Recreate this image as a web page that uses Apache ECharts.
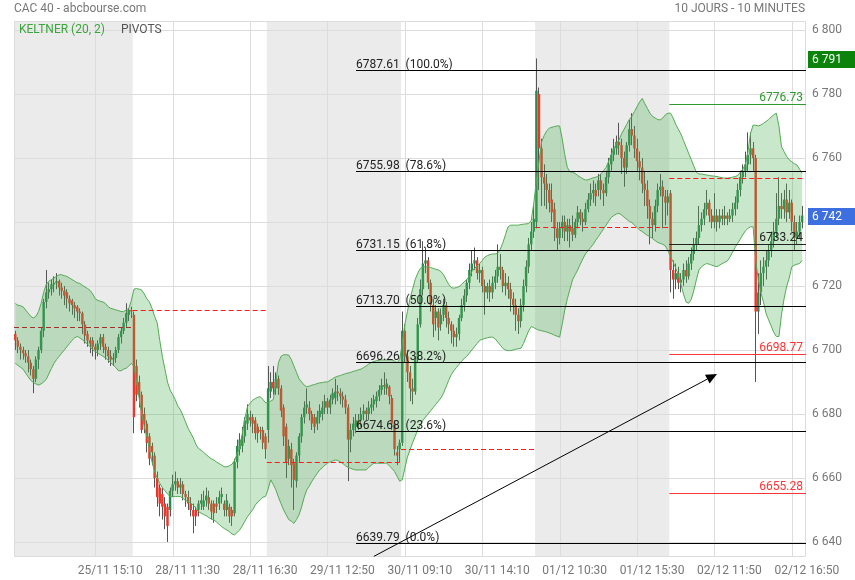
<!DOCTYPE html>
<html><head><meta charset="utf-8">
<script src="https://cdn.jsdelivr.net/npm/echarts@6/dist/echarts.min.js"></script>
<style>html,body{margin:0;padding:0;background:#fff}#c{width:855px;height:580px}</style>
</head><body><div id="c"></div>
<script>
// ---------- DATA ----------
const dayNames = ['25/11', '28/11', '29/11', '30/11', '01/12', '02/12'];
const firstSlotOfFirstDay = 6;          // 25/11 starts at 10:00
const slotsPerDay = 52;                  // 09:00 .. 17:30, 10 minutes

const opens = [
6705,6703,6701,6700,6699,6698,6696,6694,6691,6697,6700,6706,6715,6718,6719,6720.5,6721,6721.5,6719.5,6718.5,6718,6716,6715.5,6714,6713.5,6712,6711.5,6708,6705,6703,6703,6701,6700,6702,6704,6701,6700,6698,6697,6697.5,6700,6704,6706,6708.5,6711,6712.5,
6711,6695,6690,6686,6680,6677,6673,6670,6667,6660,6657,6655,6652,6651,6650,6656,6658,6659,6657,6658,6655,6654,6652,6650,6650,6650,6652,6651,6653,6654,6652,6652,6652,6652,6654,6652,6650,6651,6650,6649,6665,6669,6670,6673,6677,6679,6679,6678,6676,6675,6675,6673,
6675,6687,6690,6688,6691,6688,6682,6676,6666,6669,6664.6,6659,6667,6673,6679,6682,6682,6680,6679,6677,6679,6680,6682,6684,6682,6684.5,6685,6687,6686.5,6685.5,6684.5,6682,6672,6675,6676,6678,6678,6680,6681,6680,6682,6683,6684,6685.5,6687.5,6689,6688,6688.5,6685,6677,6668,6669,
6671,6706,6698,6693,6688,6687,6697,6708,6719,6727,6728,6721,6714,6710,6712,6708,6711,6714,6710,6708,6706,6704,6705,6710,6714,6717,6721,6725,6727,6728,6724,6725,6720,6718,6720,6718,6721,6723,6726,6725,6720,6721,6719,6716,6714,6711,6709,6714,6720,6726,6733,6737,
6740,6780,6763,6754,6752,6750,6747,6744,6738,6735,6738,6740,6737,6739,6738,6736,6740,6743,6741,6740,6744,6747,6749,6750,6750,6753,6750,6749,6754,6758,6761,6763,6765,6764,6760,6757,6764,6769,6767,6763,6759,6757,6752,6750,6745,6741,6739,6745,6750,6751,6748,6746,
6749,6725,6722,6724,6721,6722,6725,6723,6727,6730,6733,6735,6739,6741,6744,6746,6742,6740,6742,6740,6742,6741,6742,6741,6742,6744,6746,6750,6754,6756,6758,6761,6763,6760,6712,6718,6724,6726,6728,6731,6734,6737,6741,6745,6744,6747,6743,6746,6740,6735,6737,6740
];
const closes = [
6703,6701,6700,6699,6698,6696,6694,6691,6697,6700,6706,6715,6718,6719,6720.5,6721,6721.5,6719.5,6718.5,6717,6716,6714.6,6714,6713,6712,6711.5,6708,6704.5,6703,6702,6701,6700,6702,6704,6701,6700,6698,6697,6697.5,6700,6704,6706,6708.5,6711.5,6712.5,6712,
6679,6686,6686,6675,6677,6671,6666,6668,6660,6654,6652,6651,6648,6645,6656,6658,6659,6657,6658,6655,6654,6652,6650,6648,6648,6652,6653,6653,6654.5,6652,6649.5,6649,6651,6654,6655,6650,6653,6648,6648,6665,6670,6672,6673,6678,6680,6678,6677,6674,6674,6674.5,6671,6669,
6688,6690,6688,6691,6688,6681,6673,6665,6670,6664,6659.4,6667,6673,6679,6682,6683,6680,6677,6676,6679,6681,6682,6684,6682,6684.5,6686.5,6687,6686.5,6685.5,6684.5,6682,6672,6675,6677,6678,6677,6680,6681,6680,6682,6683,6684.5,6685.5,6687.5,6689,6688.5,6689.5,6685.5,6677,6669,6667,6671,
6706,6698,6693,6688,6687,6697,6708,6719,6727,6728,6721,6714,6708,6712,6707,6711,6714,6710,6708,6706,6704,6705,6710,6714,6717,6721,6725,6727,6728,6724,6725,6720,6718,6720,6718,6721,6723,6726,6725,6720,6721,6719,6716,6714,6711,6709,6714,6720,6726,6733,6737,6741,
6781,6763,6754,6752,6750,6746,6743,6738,6735,6738,6740,6737,6739,6737,6736,6740,6743,6741,6740,6744,6747,6749,6750,6748,6753,6750,6749,6754,6758,6761,6763,6765,6764,6760,6757,6764,6769,6767,6763,6759,6757,6752,6750,6745,6741,6739,6745,6750,6751,6748,6746,6748,
6725,6722,6724,6721,6722,6725,6723,6727,6730,6733,6735,6739,6741,6744,6746,6742,6740,6742,6740,6742,6741,6742,6741,6742,6744,6746,6750,6754,6756,6758,6761,6763,6760,6712,6718,6724,6726,6728,6731,6734,6737,6741,6745,6744,6747,6743,6746,6740,6735,6737,6740,6742
];
const highs = [
6706,6704,6702,6701,6700,6700,6697,6695,6698,6701,6707,6716,6725,6721,6722,6723,6724,6722,6721,6720,6719,6717,6716,6715,6714,6713,6712,6709,6706,6704,6704,6702,6703,6705,6705,6702,6701,6700,6699,6701,6705,6707,6710,6714.6,6713,6713.5,
6712,6697,6692,6687,6682,6678,6674,6671,6668,6662,6658,6657,6654,6652,6657,6661,6662,6660,6660,6659,6656,6656,6654,6652,6651,6653,6655,6656,6657,6656,6653,6653,6654,6656,6657,6653,6655,6652,6651,6666,6672,6674,6676,6679,6683,6681,6680,6679,6677,6676,6676,6674,
6695,6693,6695,6693,6692,6689,6683,6677,6672,6671,6666,6668,6674,6680,6684,6688,6684,6681,6680,6681,6683,6684,6686,6685,6686,6688,6691,6689,6688,6687,6686,6683,6677,6679,6680,6680,6682,6683,6682,6684,6685,6686,6687,6689,6691,6693,6691,6689,6686,6678,6670,6672,
6712,6708,6700,6695,6691,6698,6710,6722,6734,6732,6729,6722,6716,6714,6713,6713,6716,6715,6712,6709,6708,6707,6711,6716,6719,6722,6727,6731,6732,6729,6727,6726,6722,6721,6722,6723,6725,6733,6730,6726,6724,6723,6721,6718,6716,6713,6716,6722,6728,6735,6740,6745,
6791.1,6782,6766,6758,6755,6752,6752,6746,6740,6740,6742,6742,6741,6741,6742,6741,6745,6744,6743,6746,6749,6752,6753,6752,6755,6755,6752,6756,6760,6763,6766,6767,6771,6766,6762,6765,6772,6774,6770,6766,6762,6760,6756,6753,6747,6743,6747,6752,6755,6753,6750,6750,
6750,6728,6727,6726,6724,6727,6728,6729,6732,6735,6737,6745,6743,6746,6750,6747,6744,6749,6744,6744,6744,6745,6743,6744,6746,6748,6752,6756,6758,6762,6768,6768,6765,6761,6724,6728,6729,6731,6733,6737,6740,6749,6754,6749,6750,6752,6750,6747,6742,6740,6742,6745
];
const lows = [
6700,6699,6697,6697,6696,6693,6692,6686.5,6690,6694,6699,6704,6713,6716,6717,6718,6719,6717,6716,6714,6713,6712,6711,6710,6709,6709,6705,6702,6701,6699,6698,6697,6698,6700,6699,6697,6696,6695,6695,6696,6699,6702,6705,6707,6709,6710,
6674,6684,6682,6674,6674,6668,6664,6664,6657,6651,6648,6647,6644,6640,6648,6654,6656,6655,6655,6653,6651,6650,6648,6642.7,6645,6648,6650,6650,6651,6650,6647,6646,6649,6650,6652,6648,6648,6646,6645,6648,6663,6667,6668,6671,6675,6676,6674,6672,6671,6672,6669,6666,
6671,6685,6686,6686,6686,6679,6670,6660,6664,6657,6650,6657,6665,6671,6677,6680,6678,6675,6674,6675,6677,6678,6680,6680,6680,6683,6683,6684,6683,6682,6680,6659,6668,6673,6674,6675,6676,6678,6678,6678,6680,6681,6682,6684,6686,6686,6686,6683,6675,6667,6664,6665,
6670,6696,6690,6684,6683,6686,6696,6707,6717,6724,6719,6712,6704,6706,6703,6706,6709,6707,6705,6702,6701,6701,6703,6709,6712,6715,6719,6723,6725,6722,6721,6718,6711,6716,6715,6716,6719,6721,6722,6718,6717,6716,6712,6711,6706,6705,6707,6712,6718,6724,6731,6735,
6738,6750,6745,6745,6744,6743,6740,6734,6731,6733,6735,6734,6734,6732,6734,6735,6738,6739,6737,6739,6743,6745,6746,6745,6748,6747,6745,6748,6752,6756,6759,6761,6761,6755,6751,6755,6762,6764,6760,6756,6753,6749,6745,6741,6733,6735,6737,6743,6748,6738,6739,6742,
6718,6716,6719,6719,6718,6720,6721,6722,6725,6728,6731,6733,6737,6739,6742,6740,6738,6738,6737,6738,6739,6739,6739,6740,6740,6742,6744,6748,6752,6754,6756,6758,6756,6690,6705,6714,6720,6722,6726,6729,6732,6735,6739,6741,6741,6740,6741,6737,6731,6733,6735,6738
];
const kcUpper = [
6714.5,6714,6713.8,6713.5,6712.5,6711.5,6710.5,6710,6710.5,6712,6714.5,6718,6720.5,6721.5,6722,6722.5,6723,6723.5,6723.5,6723.2,6723,6722.5,6722,6721.5,6721,6720.8,6720.2,6719.7,6719.2,6718.6,6717.5,6716,6715.5,6715.2,6715,6714.5,6713.5,6713,6712.8,6712.5,6712.3,6712,6712,6712.5,6713,6715.5,
6719,6719.2,6719,6718.7,6717.5,6716,6715,6713,6710.5,6708.5,6703,6698,6694,6690,6687.5,6686,6684.5,6682.5,6681.3,6679.5,6677.5,6675.5,6674,6672.5,6670.5,6669.2,6668.7,6668,6667.3,6666.6,6666,6665.6,6665,6664.5,6664,6663.5,6663.5,6663.8,6664.3,6665.5,6667.5,6669.5,6674,6678.5,6682.3,6683.3,6684.3,6684.8,6685.2,6685.4,6684.5,6683.5,
6683.5,6684,6684.5,6690,6696,6698,6698.5,6698.5,6698.4,6697,6695,6693,6691,6690,6689,6688.5,6688.7,6689,6689.2,6689.5,6689.7,6689.8,6690,6690,6690.5,6691,6691.5,6691.8,6692,6692.3,6692.6,6692.8,6693,6693.3,6693.5,6693.8,6694,6694.5,6695,6695.6,6696.1,6696.4,6696.6,6696.8,6696.9,6696.9,6696.9,6696.9,6696.9,6696.5,6696,6697,
6702,6708,6712,6716,6719,6722,6724,6725.5,6726,6726,6726,6725.8,6725.5,6725.2,6725,6724.5,6723.5,6722,6720.5,6719.5,6719.3,6719.5,6719.8,6720.5,6721.3,6722,6723,6724.5,6725.5,6726.2,6727,6728,6729,6729.5,6729.8,6730,6730,6730.2,6731.5,6733.5,6736,6738.5,6739,6739,6739,6739,6739.2,6739.3,6739.4,6739.5,6740.5,6746,
6753,6759,6765,6767,6768.5,6769.3,6769.6,6769.8,6770,6770,6766,6761,6757,6755.7,6755.5,6755.2,6754.5,6754,6753.5,6753.1,6753.2,6753.5,6753.8,6754,6754.2,6755,6756,6757,6759,6761,6763,6764.5,6765.6,6767.5,6769,6770.5,6772,6773,6774.5,6776,6777.5,6778.6,6777,6775.5,6774,6773,6772.5,6772,6771.9,6772.5,6773.5,6774,
6774,6772.5,6770.5,6769,6767.5,6765.5,6763.5,6761.5,6759.5,6757.5,6755.5,6755,6755,6754.8,6754.7,6754.5,6754.4,6754.3,6754.2,6754,6753.8,6753.7,6753.7,6753.8,6754,6754.2,6754.5,6755.5,6756.5,6758,6762,6767.7,6770.3,6770.2,6770,6770.3,6770.8,6771.4,6772,6772.8,6773.5,6774,6770,6763.5,6762,6760.5,6759.4,6758.8,6758.2,6757.8,6756.5,6755.2
];
const kcLower = [
6695.8,6695.2,6694.6,6694,6692.8,6691.6,6690.5,6689.8,6689.4,6689,6689.4,6690,6690.8,6692.5,6694.2,6695.8,6697,6698,6699,6700,6701,6702,6703,6703.8,6704.2,6703.8,6703.2,6702.5,6701.8,6701,6700,6699.5,6699,6698.5,6698,6697.5,6696.8,6696,6695.3,6694.5,6693.5,6693.5,6694,6694.3,6695,6695.8,
6694.8,6690,6685,6680,6676,6672.9,6669,6665,6662,6660,6658.3,6657,6656,6655,6654.2,6654.2,6654.2,6654.2,6654.2,6653.6,6653,6652.5,6652.1,6651.5,6650.5,6649.5,6649,6648.6,6648.2,6647.6,6647.2,6646.9,6646.2,6645.5,6644.8,6644.2,6643.75,6643.2,6642.5,6642.2,6643,6643.75,6645,6646.5,6647.9,6649,6650,6651.5,6652.5,6653.2,6654,6654.2,
6656.5,6659.4,6658,6656.3,6654,6652,6650,6648.5,6647,6646.5,6645.8,6647,6648.5,6651,6654,6656.3,6657.5,6659,6660.2,6661.4,6662.5,6663.2,6664,6664.6,6665,6665.3,6665.6,6665.5,6665,6664.5,6663.8,6663.3,6663,6662.7,6662.5,6662.5,6662.5,6662.5,6662.5,6663.3,6664,6664.6,6664.6,6664.6,6664.6,6664.6,6664.6,6663.8,6663,6662,6660.5,6659,
6659.4,6663,6666.5,6668.75,6671,6673,6675,6676.5,6678,6679,6680,6681,6682,6683,6684,6685,6686.5,6688.5,6690.5,6692.3,6693.5,6694.5,6695.5,6696.5,6697.3,6698,6699,6700,6701,6702,6703,6703.3,6703.6,6703.8,6704,6704,6703.5,6702.5,6701.5,6700.5,6700,6699.8,6699.8,6700,6700.2,6700.4,6700.5,6702,6704,6706,6707.3,6707,
6706.5,6706.2,6706,6705.8,6705.6,6705.3,6705,6704.6,6704.3,6704,6708,6712.5,6716,6719,6721.9,6723.5,6725,6726.8,6728.5,6730,6731,6732,6733,6734.3,6735.4,6736.6,6737.8,6739,6740.2,6741.4,6742,6742.5,6742.7,6742.2,6741.5,6740.8,6740.2,6739.8,6739,6738.3,6737.5,6737,6736.4,6735.8,6735.4,6734.8,6734.2,6733.6,6733.3,6733,6732.5,6731,
6729.2,6727.5,6725.5,6723.5,6720.5,6717.5,6715,6714.6,6715.8,6718.5,6721.9,6725,6726,6726.6,6727,6726.8,6726.5,6726.2,6726,6726.5,6727,6727.4,6727.8,6729,6730.5,6732,6733.3,6734.6,6736,6737.2,6738,6738.5,6738.5,6728,6722,6718,6715,6711.5,6709.4,6707.5,6705.5,6704.2,6704.2,6711,6716,6719.8,6722.5,6726,6726.5,6726.8,6727,6728
];

// daily pivot (dashed), one per day
const dailyPivots = [6707.2, 6712.5, 6665.0, 6669.1, 6738.4, 6753.8];
// Fibonacci retracement
const fibValues = [6787.61, 6755.98, 6731.15, 6713.70, 6696.26, 6674.68, 6639.79];
const fibPercents = ['100.0%', '78.6%', '61.8%', '50.0%', '38.2%', '23.6%', '0.0%'];
const fibStartIndex = 132;
// current-day pivot levels (R1, P, S1, S2)
const levelValues = [6776.73, 6733.24, 6698.77, 6655.28];
const levelKinds = ['r', 'p', 's', 's'];
// trend arrow [category index, value]
const arrowFrom = [139, 6635.5];
const arrowTo = [272, 6692.5];
// price tags on the axis
const tagValues = [6791, 6742];
const tagKinds = ['high', 'last'];
// ticks
const yTicks = [6640, 6660, 6680, 6700, 6720, 6740, 6760, 6780, 6800];
const xTickIndex = [31, 61, 91, 121, 151, 181, 211, 241, 271, 301];

// ---------- BUILD ----------
const categories = [];
dayNames.forEach((d, k) => {
  for (let j = (k === 0 ? firstSlotOfFirstDay : 0); j < slotsPerDay; j++) {
    const m = 9 * 60 + j * 10;
    categories.push(d + ' ' + String(Math.floor(m / 60)).padStart(2, '0') + ':' + String(m % 60).padStart(2, '0'));
  }
});
categories.push('');
const dayStart = [];
{ let s = 0; dayNames.forEach((d, k) => { dayStart.push(s); s += (k === 0 ? slotsPerDay - firstSlotOfFirstDay : slotsPerDay); }); dayStart.push(s); }
const shadedDays = [0, 2, 4];

const Y_MIN = 6635.3, Y_MAX = 6802.8;
const FONT = 'Roboto, "DejaVu Sans", sans-serif';
const C = {
  up: '#2b8a4e', down: '#e8382c', wick: '#555555',
  shade: '#ebebeb', grid: '#dcdcdc',
  band: 'rgba(76,175,80,0.30)', bandLine: '#55aa55',
  pivot: '#ff1a1a', pivot0: '#a0302a',
  r: '#2e9a2e', p: '#222222', s: '#ff3333',
  high: '#0c840c', last: '#3d6fe0'
};
const fmt = v => { const s = String(Math.round(v)); return s.slice(0, s.length - 3) + ' ' + s.slice(-3); };

const candleData = opens.map((o, i) => [i, o, closes[i], lows[i], highs[i]]);
const bandDiff = kcUpper.map((u, i) => +(u - kcLower[i]).toFixed(2));

function renderBackground(params, api) {
  const cs = params.coordSys;
  const bw = api.size([1, 0])[0];
  const ch = [];
  shadedDays.forEach(k => {
    const x1 = api.coord([dayStart[k], Y_MIN])[0] - bw / 2;
    const x2 = api.coord([dayStart[k + 1] - 1, Y_MIN])[0] + bw / 2;
    ch.push({type: 'rect', shape: {x: x1, y: cs.y, width: x2 - x1, height: cs.height}, style: {fill: C.shade}});
  });
  xTickIndex.forEach(i => {
    const x = Math.round(api.coord([i, Y_MIN])[0]) + 0.5;
    ch.push({type: 'line', shape: {x1: x, y1: cs.y, x2: x, y2: cs.y + cs.height}, style: {stroke: C.grid, lineWidth: 1}});
  });
  yTicks.forEach(v => {
    const y = Math.round(api.coord([0, v])[1]) + 0.5;
    ch.push({type: 'line', shape: {x1: cs.x, y1: y, x2: cs.x + cs.width, y2: y}, style: {stroke: C.grid, lineWidth: 1}});
  });
  ch.push({type: 'rect', shape: {x: cs.x + 0.5, y: cs.y + 0.5, width: cs.width - 1, height: cs.height - 1}, style: {fill: null, stroke: C.grid, lineWidth: 1}});
  return {type: 'group', children: ch};
}

function renderCandle(params, api) {
  const i = api.value(0), o = api.value(1), c = api.value(2), l = api.value(3), h = api.value(4);
  const pO = api.coord([i, o]), pC = api.coord([i, c]);
  const yL = api.coord([i, l])[1], yH = api.coord([i, h])[1];
  const bw = api.size([1, 0])[0] * 0.95;
  const cx = pO[0];
  const wx = Math.round(cx - 0.5) + 0.5;
  const top = Math.min(pO[1], pC[1]), bot = Math.max(pO[1], pC[1]);
  return {type: 'group', children: [
    {type: 'line', shape: {x1: wx, y1: yH, x2: wx, y2: yL}, style: {stroke: C.wick, lineWidth: 1}},
    {type: 'rect', shape: {x: cx - bw / 2, y: top, width: bw, height: Math.max(bot - top, 1)}, style: {fill: c >= o ? C.up : C.down}}
  ]};
}

function renderPivots(params, api) {
  const cs = params.coordSys;
  const bw = api.size([1, 0])[0];
  const ch = [];
  dailyPivots.forEach((v, k) => {
    const x1 = api.coord([dayStart[k], v])[0] - bw / 2;
    const x2 = api.coord([dayStart[k + 1] - 1, v])[0] + bw / 2;
    const y = Math.round(api.coord([0, v])[1]) + 0.5;
    ch.push({type: 'line', shape: {x1, y1: y, x2, y2: y}, style: {stroke: k === 0 ? C.pivot0 : C.pivot, lineWidth: 1, lineDash: [5, 3]}});
  });
  const right = cs.x + cs.width;
  const lx = api.coord([dayStart[5], Y_MIN])[0] - bw / 2;
  levelValues.forEach((v, k) => {
    const y = Math.round(api.coord([0, v])[1]) + 0.5;
    const col = C[levelKinds[k]];
    ch.push({type: 'line', shape: {x1: lx, y1: y, x2: right, y2: y}, style: {stroke: col, lineWidth: 1}});
    ch.push({type: 'text', style: {text: v.toFixed(2), x: right - 3, y: y - 1, align: 'right', verticalAlign: 'bottom', fill: col, font: '12px ' + FONT}});
  });
  return {type: 'group', children: ch};
}

function renderFibo(params, api) {
  const cs = params.coordSys;
  const right = cs.x + cs.width;
  const x0 = Math.round(api.coord([fibStartIndex, Y_MIN])[0]);
  const ch = [];
  fibValues.forEach((v, k) => {
    const y = Math.round(api.coord([0, v])[1]) + 0.5;
    ch.push({type: 'line', shape: {x1: x0, y1: y, x2: right, y2: y}, style: {stroke: '#000', lineWidth: 1}});
    ch.push({type: 'text', style: {text: v.toFixed(2) + '  (' + fibPercents[k] + ')', x: x0, y: y + 0.5, align: 'left', verticalAlign: 'bottom', fill: '#222', font: '12px ' + FONT}});
  });
  // arrow
  const a = api.coord(arrowFrom), b = api.coord(arrowTo);
  const ang = Math.atan2(b[1] - a[1], b[0] - a[0]);
  const L = 11, W = 5;
  const bx = b[0] - L * Math.cos(ang), by = b[1] - L * Math.sin(ang);
  ch.push({type: 'line', shape: {x1: a[0], y1: a[1], x2: bx, y2: by}, style: {stroke: '#000', lineWidth: 1}});
  ch.push({type: 'polygon', shape: {points: [[b[0], b[1]], [bx + W * Math.sin(ang), by - W * Math.cos(ang)], [bx - W * Math.sin(ang), by + W * Math.cos(ang)]]}, style: {fill: '#000'}});
  return {type: 'group', children: ch};
}

function renderTag(params, api) {
  const cs = params.coordSys;
  const v = api.value(1);
  const y = api.coord([0, v])[1];
  const col = C[tagKinds[params.dataIndex]];
  const x = cs.x + cs.width + 2;
  return {type: 'group', children: [
    {type: 'rect', shape: {x: x, y: Math.round(y) - 8, width: 855 - x, height: 17}, style: {fill: col}},
    {type: 'text', style: {text: fmt(v), x: x + 4, y: Math.round(y) + 0.5, align: 'left', verticalAlign: 'middle', fill: '#fff', font: '12px ' + FONT}}
  ]};
}

const chart = echarts.init(document.getElementById('c'), null, {renderer: 'canvas'});
chart.setOption({
  animation: false,
  backgroundColor: '#fff',
  textStyle: {fontFamily: FONT},
  title: [
    {text: 'CAC 40 - abcbourse.com', left: 14, top: 3, padding: 0, textStyle: {fontSize: 12, fontWeight: 'normal', color: '#777', fontFamily: FONT}},
    {text: '10 JOURS - 10 MINUTES', right: 50, top: 3, padding: 0, textStyle: {fontSize: 12, fontWeight: 'normal', color: '#777', fontFamily: FONT}}
  ],
  legend: {
    left: 14, top: 23, padding: 0, itemWidth: 0, itemHeight: 14, itemGap: 11, icon: 'none', selectedMode: false,
    data: [
      {name: 'KELTNER (20, 2)', textStyle: {color: '#3aa53a'}},
      {name: 'PIVOTS', textStyle: {color: '#555'}}
    ],
    textStyle: {fontSize: 12, fontFamily: FONT}
  },
  grid: {left: 14, right: 49, top: 21, bottom: 23, outerBoundsMode: 'none', containLabel: false},
  xAxis: {
    type: 'category', data: categories, boundaryGap: true,
    axisLine: {show: false}, axisTick: {show: false}, splitLine: {show: false},
    axisLabel: {
      interval: (idx) => xTickIndex.indexOf(idx) >= 0,
      color: '#777', fontSize: 12, margin: 8, padding: [0, 0, 0, 30], fontFamily: FONT
    }
  },
  yAxis: {
    type: 'value', position: 'right', min: Y_MIN, max: Y_MAX, scale: true,
    axisLine: {show: false}, axisTick: {show: false, customValues: yTicks}, splitLine: {show: false},
    axisLabel: {customValues: yTicks, formatter: v => fmt(v), color: '#777', fontSize: 12, margin: 6, fontFamily: FONT}
  },
  series: [
    {type: 'custom', name: 'bg', silent: true, z: 0, renderItem: renderBackground, data: [[0, Y_MIN]], encode: {x: 0, y: 1}},
    {type: 'custom', name: 'CAC 40', silent: true, z: 1, renderItem: renderCandle, data: candleData, encode: {x: 0, y: [1, 2, 3, 4]}},
    {type: 'line', name: 'KELTNER (20, 2)', stack: 'kc', z: 2, data: kcLower, showSymbol: false, symbol: 'none',
      lineStyle: {color: C.bandLine, width: 1}, itemStyle: {color: C.bandLine}, silent: true},
    {type: 'line', name: 'KELTNER (20, 2)', stack: 'kc', z: 2, data: bandDiff, showSymbol: false, symbol: 'none',
      lineStyle: {color: C.bandLine, width: 1}, itemStyle: {color: C.bandLine}, areaStyle: {color: C.band, opacity: 1}, silent: true},
    {type: 'custom', name: 'PIVOTS', silent: true, z: 3, renderItem: renderPivots, data: [[0, Y_MIN]], encode: {x: 0, y: 1}, itemStyle: {color: '#555'}},
    {type: 'custom', name: 'fibo', silent: true, z: 4, renderItem: renderFibo, data: [[0, Y_MIN]], encode: {x: 0, y: 1}},
    {type: 'custom', name: 'tags', silent: true, z: 5, clip: false, renderItem: renderTag, data: tagValues.map(v => [0, v]), encode: {x: 0, y: 1}}
  ]
});
</script>
</body></html>
